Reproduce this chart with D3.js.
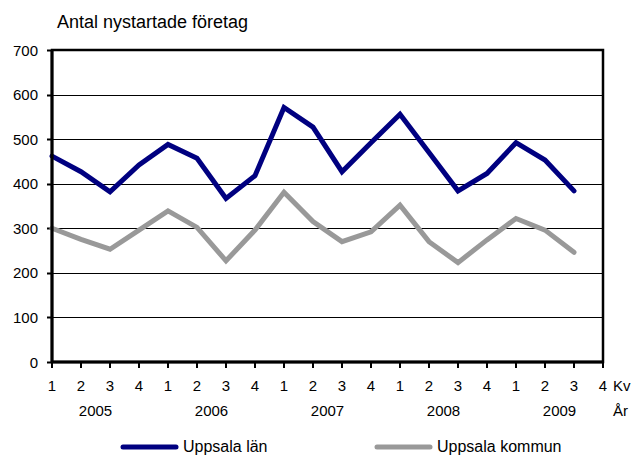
<!DOCTYPE html>
<html><head><meta charset="utf-8">
<script src="https://cdn.jsdelivr.net/npm/d3@7"></script>
<style>body{margin:0;background:#fff}svg{display:block;font-family:"Liberation Sans",Arial,sans-serif}</style>
</head><body><svg id="c" width="634" height="457"></svg>
<script>
const quarters = ["1","2","3","4","1","2","3","4","1","2","3","4","1","2","3","4","1","2","3","4"];
const years = ["2005","2006","2007","2008","2009"];
const yTicks = [0,100,200,300,400,500,600,700];
const lan =     [462,427,382,442,488,457,367,418,571,527,427,492,556,470,384,423,492,453,384];
const kommun =  [300,275,253,296,339,302,227,296,381,315,270,292,352,270,223,274,322,296,246];
const seriesNames = ["Uppsala län","Uppsala kommun"];
const colors = ["#000080","#999999"];

const svg = d3.select("#c");
const L=52, R=603, T=50, B=362;
const x = d3.scaleLinear().domain([0,19]).range([L,R]);
const y = d3.scaleLinear().domain([0,700]).range([B,T]);

svg.append("text").attr("x",57).attr("y",28).attr("font-size",18).text("Antal nystartade företag");

// gridlines
svg.append("g").selectAll("line").data(yTicks.filter(d=>d>0&&d<700)).join("line")
  .attr("x1",L).attr("x2",R).attr("y1",d=>Math.round(y(d))+0.5).attr("y2",d=>Math.round(y(d))+0.5)
  .attr("stroke","#000").attr("stroke-width",1);

// y axis ticks+labels
const gy = svg.append("g");
gy.selectAll("line").data(yTicks).join("line")
  .attr("x1",L-5).attr("x2",L).attr("y1",d=>Math.round(y(d))+0.5).attr("y2",d=>Math.round(y(d))+0.5)
  .attr("stroke","#000").attr("stroke-width",2);
gy.selectAll("text").data(yTicks).join("text")
  .attr("x",L-14).attr("y",d=>y(d)+5.5).attr("text-anchor","end").attr("font-size",15).text(d=>d);

// x ticks + labels
const gx = svg.append("g");
gx.selectAll("line").data(quarters).join("line")
  .attr("x1",(d,i)=>x(i)).attr("x2",(d,i)=>x(i)).attr("y1",B).attr("y2",B+6)
  .attr("stroke","#000").attr("stroke-width",2);
gx.selectAll("text").data(quarters).join("text")
  .attr("x",(d,i)=>x(i)).attr("y",391).attr("text-anchor","middle").attr("font-size",15).text(d=>d);
svg.append("text").attr("x",613).attr("y",391).attr("font-size",15).text("Kv");
svg.append("g").selectAll("text").data(years).join("text")
  .attr("x",(d,i)=>x(i*4+1.5)).attr("y",416).attr("text-anchor","middle").attr("font-size",15).text(d=>d);
svg.append("text").attr("x",613).attr("y",416).attr("font-size",15).text("År");

// series
const line = d3.line().x((d,i)=>x(i)).y(d=>y(d));
[lan,kommun].reverse().forEach((s,k)=>{
  const idx = 1-k;
  svg.append("path").attr("d",line(s)).attr("fill","none").attr("stroke",colors[idx])
    .attr("stroke-width",5).attr("stroke-linejoin","miter").attr("stroke-linecap","round");
});

// frame
svg.append("rect").attr("x",L).attr("y",T).attr("width",R-L).attr("height",B-T)
  .attr("fill","none").attr("stroke","#000").attr("stroke-width",2.5);
svg.append("line").attr("x1",L).attr("x2",L).attr("y1",T).attr("y2",B).attr("stroke","#000").attr("stroke-width",3);
svg.append("line").attr("x1",L).attr("x2",R).attr("y1",B).attr("y2",B).attr("stroke","#000").attr("stroke-width",3);

// legend
const lx = [123,377];
seriesNames.forEach((n,i)=>{
  svg.append("line").attr("x1",lx[i]).attr("x2",lx[i]+53).attr("y1",447).attr("y2",447)
    .attr("stroke",colors[i]).attr("stroke-width",5).attr("stroke-linecap","round");
  svg.append("text").attr("x",lx[i]+60).attr("y",452).attr("font-size",16).text(n);
});
</script></body></html>
